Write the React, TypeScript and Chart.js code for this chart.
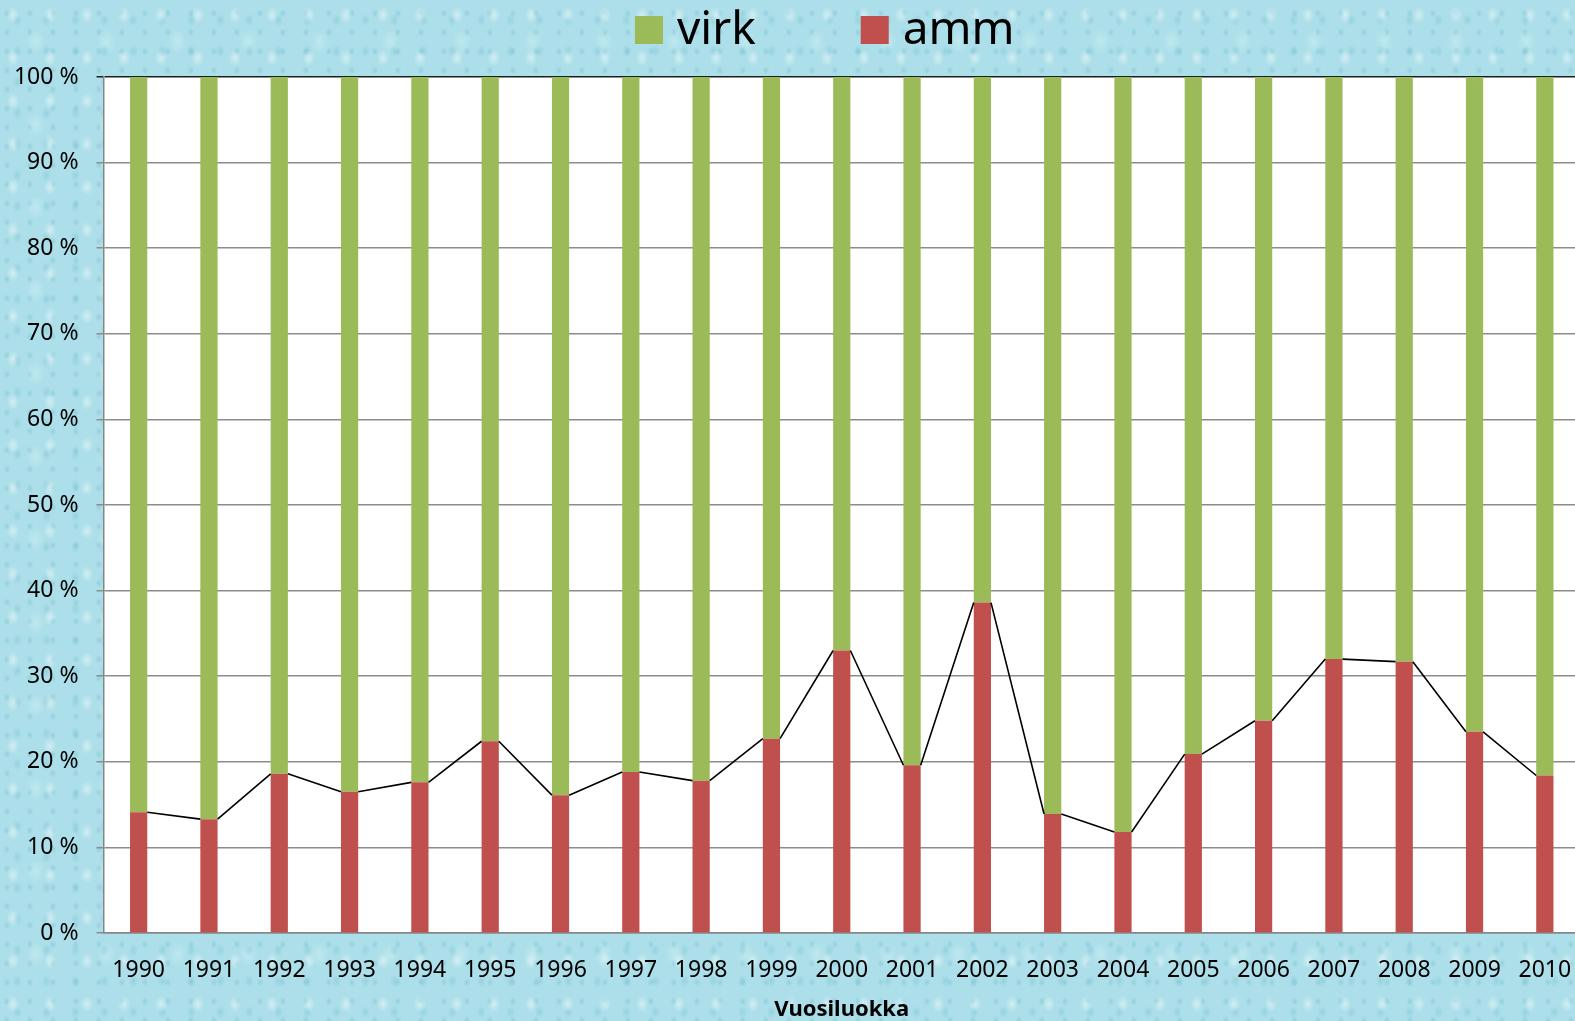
import React, { useEffect, useRef } from "react";
import { Chart, registerables } from "chart.js";

Chart.register(...registerables);

const years = ["1990","1991","1992","1993","1994","1995","1996","1997","1998","1999","2000","2001","2002","2003","2004","2005","2006","2007","2008","2009","2010"];
const amm = [14.1, 13.3, 18.6, 16.5, 17.6, 22.4, 16.1, 18.8, 17.8, 22.7, 33.0, 19.6, 38.6, 13.9, 11.8, 20.9, 24.8, 32.0, 31.7, 23.5, 18.4];
const virk = [85.9, 86.7, 81.4, 83.5, 82.4, 77.6, 83.9, 81.2, 82.2, 77.3, 67.0, 80.4, 61.4, 86.1, 88.2, 79.1, 75.2, 68.0, 68.3, 76.5, 81.6];
const yTicks = [0, 10, 20, 30, 40, 50, 60, 70, 80, 90, 100];
const xTitle = "Vuosiluokka";

const GREEN = "#9bbb59";
const RED = "#c0504d";
const FONT = "'Noto Sans', sans-serif";

const plotBg = {
  id: "plotBg",
  beforeDraw(chart: any) {
    const { ctx, chartArea } = chart;
    ctx.save();
    ctx.fillStyle = "#ffffff";
    ctx.fillRect(chartArea.left, chartArea.top, chartArea.right - chartArea.left, chartArea.bottom - chartArea.top);
    ctx.restore();
  },
};

const seriesLines = {
  id: "seriesLines",
  afterDatasetsDraw(chart: any) {
    const meta = chart.getDatasetMeta(0);
    const { ctx } = chart;
    ctx.save();
    ctx.strokeStyle = "#000000";
    ctx.lineWidth = 1.6;
    ctx.beginPath();
    for (let i = 0; i < meta.data.length - 1; i++) {
      const a = meta.data[i];
      const b = meta.data[i + 1];
      ctx.moveTo(a.x + a.width / 2, a.y);
      ctx.lineTo(b.x - b.width / 2, b.y);
    }
    ctx.stroke();
    ctx.restore();
  },
};

const customLegend = {
  id: "customLegend",
  afterDraw(chart: any) {
    const { ctx, chartArea } = chart;
    const items = [...chart.data.datasets].reverse();
    ctx.save();
    ctx.font = `46px ${FONT}`;
    ctx.textBaseline = "middle";
    ctx.textAlign = "left";
    const box = 28;
    const gapText = 14;
    const gapItem = 105;
    const widths = items.map((d: any) => box + gapText + ctx.measureText(d.label).width);
    const total = widths.reduce((s: number, w: number) => s + w, 0) + gapItem * (items.length - 1);
    let x = (chartArea.left + chartArea.right) / 2 - total / 2 - 17;
    const cy = 30;
    items.forEach((d: any, i: number) => {
      ctx.fillStyle = d.backgroundColor;
      ctx.fillRect(x, cy - box / 2, box, box);
      ctx.fillStyle = "#000000";
      ctx.fillText(d.label, x + box + gapText, cy + 1);
      x += widths[i] + gapItem;
    });
    ctx.restore();
  },
};

export default function App() {
  const ref = useRef<HTMLCanvasElement>(null);
  useEffect(() => {
    if (!ref.current) return;
    const chart = new Chart(ref.current, {
      type: "bar",
      data: {
        labels: years,
        datasets: [
          { label: "amm", data: amm, backgroundColor: RED, borderWidth: 0, barPercentage: 0.245, categoryPercentage: 1 },
          { label: "virk", data: virk, backgroundColor: GREEN, borderWidth: 0, barPercentage: 0.245, categoryPercentage: 1 },
        ],
      },
      options: {
        animation: false,
        responsive: false,
        devicePixelRatio: 1,
        layout: { padding: { top: 77, left: 0, right: 0, bottom: 0 } },
        plugins: {
          legend: { display: false },
          tooltip: { enabled: false },
        },
        scales: {
          x: {
            stacked: true,
            grid: { display: false, drawTicks: true, tickLength: 24 },
            border: { display: true, color: "#868686", width: 1.5 },
            ticks: {
              color: "#000000",
              font: { family: FONT, size: 23 },
              padding: 0,
              maxRotation: 0,
              autoSkip: false,
            },
            title: {
              display: true,
              text: xTitle,
              color: "#000000",
              font: { family: FONT, size: 22, weight: "bold" },
              padding: { top: 0, bottom: -2 },
            },
            afterFit(scale: any) {
              scale.height = 88;
            },
          },
          y: {
            stacked: true,
            min: 0,
            max: 100,
            afterBuildTicks(scale: any) {
              scale.ticks = yTicks.map((v) => ({ value: v }));
            },
            grid: {
              color: (c: any) => (c.tick && c.tick.value === 100 ? "#1e1e1e" : "#8c8c8c"),
              lineWidth: 1.5,
              drawTicks: true,
              tickLength: 7,
            },
            border: { display: true, color: "#868686", width: 1.5 },
            ticks: {
              color: "#000000",
              font: { family: FONT, size: 23 },
              padding: 18,
              callback: (v: any) => `${v} %`,
            },
            afterFit(scale: any) {
              scale.width = 103.5;
            },
          },
        },
      },
      plugins: [plotBg, seriesLines, customLegend],
    });
    return () => chart.destroy();
  }, []);

  const bg: React.CSSProperties = {
    position: "fixed",
    left: 0,
    top: 0,
    width: 1575,
    height: 1021,
    overflow: "hidden",
    backgroundColor: "#acdfe9",
    backgroundImage: [
      "radial-gradient(ellipse 9px 12px at 35% 35%, rgba(255,255,255,0.45), rgba(255,255,255,0) 70%)",
      "radial-gradient(ellipse 7px 9px at 60% 65%, rgba(110,185,205,0.35), rgba(110,185,205,0) 70%)",
      "radial-gradient(ellipse 14px 18px at 50% 50%, rgba(225,248,252,0.35), rgba(225,248,252,0) 70%)",
      "radial-gradient(ellipse 5px 6px at 30% 70%, rgba(90,170,195,0.3), rgba(90,170,195,0) 70%)",
    ].join(","),
    backgroundSize: "37px 43px, 29px 31px, 71px 83px, 23px 19px",
  };

  return (
    <div style={bg}>
      <canvas
        ref={ref}
        width={1580}
        height={1021}
        style={{ position: "absolute", left: 0, top: 0, width: 1580, height: 1021, display: "block" }}
      />
    </div>
  );
}
